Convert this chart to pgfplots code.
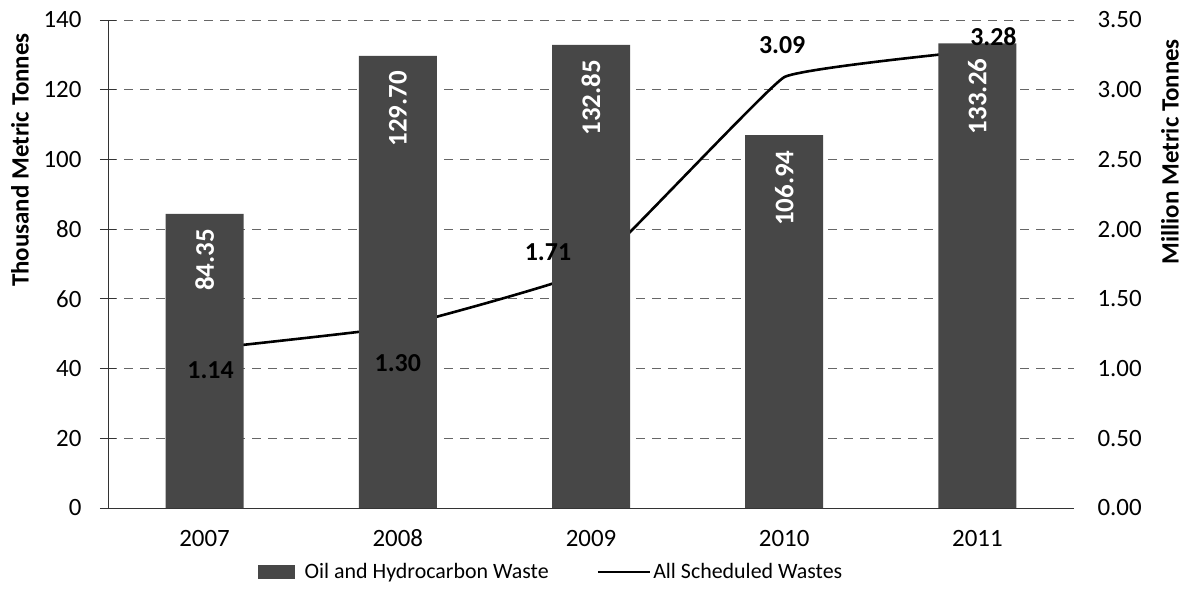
\documentclass[border=0pt]{standalone}
\usepackage{fontspec}
\setmainfont{Carlito}
\usepackage{pgfplots}
\pgfplotsset{compat=1.18}
\usepackage{pgfplotstable}
\definecolor{barcol}{rgb}{0.28,0.28,0.28}

\pgfplotstableread{
x y
0 84.35
1 129.70
2 132.85
3 106.94
4 133.26
}\oil

\pgfplotstableread{
x y
0 1.14
1 1.30
2 1.71
3 3.09
4 3.28
}\allw

\pgfplotsset{
  linelabel/.style 2 args={draw=none, mark=none, forget plot, point meta=explicit,
    nodes near coords={\pgfmathprintnumber[fixed,precision=2,fixed zerofill,assume math mode=true]{\pgfplotspointmeta}},
    every node near coord/.append style={font=\fontsize{26}{30}\selectfont\bfseries, text=black, inner sep=0pt, anchor=center, xshift=#1, yshift=#2}},
}

\begin{document}
\begin{tikzpicture}
% right axis: line + grid
\begin{axis}[
  at={(0,0)}, anchor=south west,
  scale only axis, width=966bp, height=488bp,
  xmin=-0.5, xmax=4.5, ymin=0, ymax=3.5,
  axis y line*=right, axis x line=none,
  y axis line style={draw=none},
  ytick={0,0.5,...,3.5},
  major tick length=0pt,
  yticklabel shift=20bp,
  y tick label style={/pgf/number format/.cd, fixed, precision=2, fixed zerofill, assume math mode=true},
  tick label style={font=\fontsize{25}{30}\selectfont},
  ymajorgrids,
  major grid style={black!60, dash pattern=on 9bp off 7bp, line width=0.9bp},
  ylabel={Million Metric Tonnes},
  ylabel style={font=\fontsize{25}{30}\selectfont\bfseries, at={(axis description cs:1.0994,0.73)}, anchor=center},
]
\addplot[black, line width=2.6bp, smooth, tension=0.15, mark=none] table[x=x,y=y]{\allw};
\end{axis}
% left axis: bars
\begin{axis}[
  at={(0,0)}, anchor=south west,
  scale only axis, width=966bp, height=488bp,
  xmin=-0.5, xmax=4.5, ymin=0, ymax=140,
  axis x line*=bottom, axis y line*=left,
  axis line style={black!80, line width=0.9bp},
  xtick={0,1,2,3,4}, xticklabels={2007,2008,2009,2010,2011},
  ytick={0,20,...,140},
  tick align=center, major tick length=16bp,
  x tick style={draw=none},
  minor xtick={-0.5,0.5,...,4.5}, minor tick length=9bp,
  minor x tick style={yshift=-4.5bp, black!80, line width=0.9bp},
  y tick style={black!80, line width=0.9bp},
  xticklabel shift=10bp,
  yticklabel shift=15bp,
  tick label style={font=\fontsize{25}{30}\selectfont},
  x tick label style={text height=17bp, text depth=1bp},
  y tick label style={/pgf/number format/assume math mode=true},
  ylabel={Thousand Metric Tonnes},
  ylabel style={font=\fontsize{25}{30}\selectfont\bfseries, at={(axis description cs:-0.0911,0.713)}, anchor=center},
  legend style={at={(axis description cs:0.5,0)}, anchor=center, yshift=-64bp, xshift=-40bp,
    draw=none, fill=none, font=\fontsize{22}{26}\selectfont, legend columns=2,
    /tikz/every even column/.append style={column sep=46bp}},
]
\addplot[ybar, bar width=78bp, fill=barcol, draw=none,
  legend image code/.code={\fill[barcol] (0bp,-7bp) rectangle (37bp,7bp); \path (45bp,0bp);},
  nodes near coords={\pgfmathprintnumber[fixed,precision=2,fixed zerofill,assume math mode=true]{\pgfplotspointmeta}},
  every node near coord/.append style={font=\fontsize{27}{30}\selectfont\bfseries, text=white, inner sep=0pt, yshift=-15bp, rotate=90, anchor=east},
] table[x=x,y=y]{\oil};
\addlegendentry{Oil and Hydrocarbon Waste}
\addlegendimage{legend image code/.code={\draw[black, line width=2.6bp] (0bp,0bp) -- (52bp,0bp);}}
\addlegendentry{All Scheduled Wastes}
\addplot[linelabel={6bp}{-21bp}] table[row sep=\\, x=x, y expr=\thisrow{y}*40, meta=y]{x y\\ 0 1.14\\};
\addplot[linelabel={0bp}{-36bp}] table[row sep=\\, x=x, y expr=\thisrow{y}*40, meta=y]{x y\\ 1 1.30\\};
\addplot[linelabel={-43bp}{17bp}] table[row sep=\\, x=x, y expr=\thisrow{y}*40, meta=y]{x y\\ 2 1.71\\};
\addplot[linelabel={-2bp}{32bp}] table[row sep=\\, x=x, y expr=\thisrow{y}*40, meta=y]{x y\\ 3 3.09\\};
\addplot[linelabel={16bp}{14bp}] table[row sep=\\, x=x, y expr=\thisrow{y}*40, meta=y]{x y\\ 4 3.28\\};
\end{axis}
\pgfresetboundingbox
\path[use as bounding box] (-108bp,-83bp) rectangle (1077bp,508bp);
\end{tikzpicture}
\end{document}
